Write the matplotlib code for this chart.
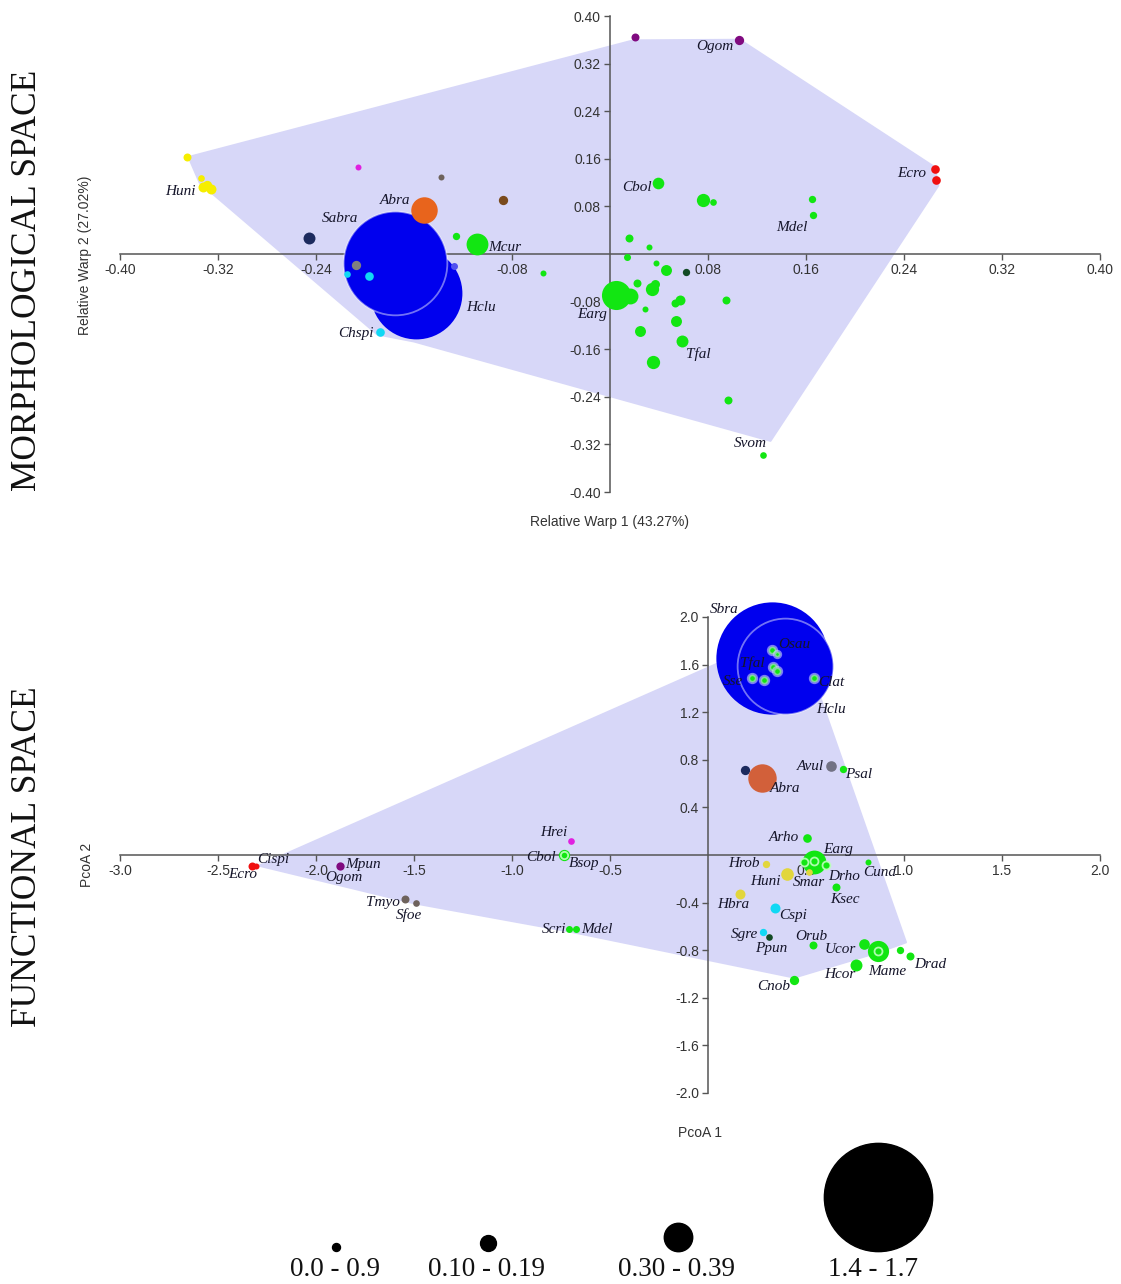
import matplotlib
matplotlib.use("Agg")
import matplotlib.pyplot as plt
from matplotlib.patches import Polygon

plt.rcParams['axes.unicode_minus'] = False

# ---------------- morphological space (relative warps) ----------------
morph_x = [-0.1586, -0.1753, -0.127,
           -0.345, -0.334, -0.332, -0.326, -0.329,
           -0.2055, -0.138, -0.0876, -0.152, -0.2455,
           -0.1257, -0.1088, -0.2073, -0.2144, -0.197, -0.188, -0.0544,
           0.0203, 0.1054, 0.265, 0.266,
           0.0388, 0.0761, 0.084, 0.165, 0.166, 0.0153, 0.0316, 0.014, 0.0378,
           0.0457, 0.0045, 0.016, 0.0218, 0.0343, 0.037, 0.0289, 0.0568, 0.0533,
           0.0945, 0.0248, 0.054, 0.0587, 0.0354, 0.096, 0.1248, 0.062]
morph_y = [-0.066, -0.015, -0.02,
           0.163, 0.128, 0.113, 0.110, 0.116,
           0.147, 0.129, 0.090, 0.0736, 0.0266,
           0.030, 0.016, -0.019, -0.033, -0.037, -0.131, -0.032,
           0.364, 0.360, 0.143, 0.124,
           0.119, 0.091, 0.088, 0.093, 0.065, 0.0265, 0.0126, -0.0047, -0.0154,
           -0.027, -0.0695, -0.071, -0.048, -0.058, -0.05, -0.093, -0.0774, -0.082,
           -0.077, -0.13, -0.1125, -0.1466, -0.182, -0.245, -0.338, -0.031]
morph_abund = [1.30, 1.48, 0.015,
               0.03, 0.01, 0.06, 0.06, 0.05,
               0.0, 0.0, 0.05, 0.31, 0.09,
               0.02, 0.24, 0.05, 0.01, 0.04, 0.04, 0.0,
               0.03, 0.05, 0.04, 0.04,
               0.085, 0.11, 0.01, 0.02, 0.02, 0.03, 0.0, 0.015, 0.0,
               0.075, 0.35, 0.15, 0.03, 0.11, 0.045, 0.0, 0.06, 0.03,
               0.03, 0.075, 0.075, 0.09, 0.11, 0.03, 0.01, 0.02]
morph_group = ['blue', 'blue_ring', 'blue_faint',
               'yellow', 'yellow', 'yellow', 'yellow', 'yellow',
               'magenta', 'taupe', 'brown', 'orange', 'navy',
               'green', 'green', 'grey', 'cyan', 'cyan', 'cyan', 'green',
               'purple', 'purple', 'red', 'red'] + ['green'] * 25 + ['dkgreen']

morph_hull_x = [-0.344, 0.019, 0.106, 0.265, 0.268, 0.131, -0.160, -0.190, -0.335]
morph_hull_y = [0.163, 0.359, 0.360, 0.146, 0.115, -0.314, -0.147, -0.135, 0.120]

morph_names = ['Ogom', 'Ecro', 'Cbol', 'Mdel', 'Huni', 'Abra', 'Sabra', 'Mcur',
               'Hclu', 'Chspi', 'Earg', 'Tfal', 'Svom']
morph_name_x = [0.101, 0.258, 0.034, 0.161, -0.3385, -0.163, -0.2055, -0.0998,
                -0.1178, -0.193, -0.0028, 0.062, 0.1147]
morph_name_y = [0.349, 0.135, 0.112, 0.045, 0.1055, 0.090, 0.059, 0.0104,
                -0.090, -0.1336, -0.1017, -0.168, -0.319]
morph_name_ha = ['right', 'right', 'right', 'right', 'right', 'right', 'right', 'left',
                 'left', 'right', 'right', 'left', 'center']

morph_ticks = [-0.40, -0.32, -0.24, -0.16, -0.08, 0.08, 0.16, 0.24, 0.32, 0.40]

# ---------------- functional space (PCoA) ----------------
func_x = [0.325, 0.395,
          0.328, 0.354, 0.332, 0.354, 0.226, 0.284, 0.539,
          -2.326, -2.304, -1.877, -1.547, -1.490, -0.699, -0.735, -0.735,
          -0.707, -0.675,
          0.187, 0.2755, 0.626, 0.691, 0.504,
          0.54, 0.489, 0.54, 0.602,
          0.514, 0.294, 0.404, 0.165, 0.343, 0.282, 0.31,
          0.653, 0.814, 0.538, 0.794, 0.865, 0.865, 0.981, 1.033, 0.755, 0.441]
func_y = [1.653, 1.586,
          1.726, 1.69, 1.58, 1.544, 1.488, 1.471, 1.485,
          -0.095, -0.095, -0.095, -0.373, -0.40, 0.118, 0.0, 0.0,
          -0.619, -0.619,
          0.716, 0.649, 0.744, 0.725, 0.140,
          -0.056, -0.062, -0.048, -0.084,
          -0.14, -0.076, -0.16, -0.328, -0.448, -0.65, -0.692,
          -0.266, -0.056, -0.756, -0.748, -0.809, -0.809, -0.798, -0.846, -0.922, -1.048]
func_abund = [1.61, 1.36,
              0.03, 0.0, 0.03, 0.03, 0.03, 0.03, 0.03,
              0.03, 0.0, 0.035, 0.03, 0.01, 0.01, 0.08, 0.02,
              0.015, 0.015,
              0.05, 0.34, 0.07, 0.02, 0.04,
              0.27, 0.03, 0.03, 0.03,
              0.01, 0.02, 0.10, 0.06, 0.06, 0.02, 0.01,
              0.03, 0.0, 0.03, 0.07, 0.23, 0.03, 0.02, 0.03, 0.09, 0.05]
func_group = ['blue', 'blue_ring'] + ['green_halo'] * 7 + \
             ['red', 'red', 'purple', 'taupe', 'taupe', 'magenta', 'green', 'green_ring',
              'green', 'green',
              'navy', 'rust', 'slate', 'green', 'green',
              'green', 'green_ring', 'green_ring', 'green_ring',
              'mustard', 'mustard', 'mustard', 'mustard', 'cyan', 'cyan', 'dkgreen',
              'green', 'green', 'green', 'green', 'green', 'green_ring', 'green', 'green',
              'green', 'green']

func_hull_x = [-2.29, 0.45, 1.01, 0.865, 0.44, -0.70, -1.50]
func_hull_y = [-0.09, 1.90, -0.734, -0.82, -1.03, -0.645, -0.405]

func_names = ['Sbra', 'Osau', 'Tfal', 'Sse', 'Clat', 'Hclu', 'Avul', 'Psal', 'Abra',
              'Cispi', 'Ecro', 'Mpun', 'Ogom', 'Tmyo', 'Sfoe', 'Hrei', 'Cbol', 'Bsop',
              'Scri', 'Mdel', 'Arho', 'Earg', 'Hrob', 'Huni', 'Smar', 'Drho', 'Cund',
              'Ksec', 'Hbra', 'Cspi', 'Sgre', 'Ppun', 'Orub', 'Ucor', 'Mame', 'Drad',
              'Hcor', 'Cnob']
func_name_x = [0.009, 0.357, 0.225, 0.075, 0.56, 0.553, 0.59, 0.697, 0.315,
               -2.30, -2.30, -1.85, -1.857, -1.574, -1.527, -0.719, -0.778, -0.71,
               -0.724, -0.649, 0.467, 0.59, 0.263, 0.369, 0.433, 0.611, 0.792,
               0.698, 0.13, 0.361, 0.254, 0.325, 0.527, 0.755, 0.916, 1.052,
               0.752, 0.42]
func_name_y = [2.067, 1.768, 1.614, 1.46, 1.451, 1.222, 0.747, 0.674, 0.557,
               -0.042, -0.162, -0.078, -0.185, -0.40, -0.507, 0.188, -0.022, -0.073,
               -0.625, -0.625, 0.149, 0.045, -0.07, -0.224, -0.23, -0.179, -0.146,
               -0.37, -0.42, -0.51, -0.672, -0.782, -0.683, -0.796, -0.98, -0.916,
               -1.0, -1.107]
func_name_ha = ['left', 'left', 'center', 'left', 'left', 'left', 'right', 'left', 'left',
                'left', 'right', 'left', 'center', 'right', 'center', 'right', 'right', 'left',
                'right', 'left', 'right', 'left', 'right', 'right', 'left', 'left', 'left',
                'center', 'center', 'left', 'right', 'center', 'center', 'right', 'center', 'left',
                'right', 'right']

func_xticks = [-3.0, -2.5, -2.0, -1.5, -1.0, -0.5, 0.5, 1.0, 1.5, 2.0]
func_yticks = [-2.0, -1.6, -1.2, -0.8, -0.4, 0.4, 0.8, 1.2, 1.6, 2.0]

# abundance classes for the size legend
legend_values = [0.03, 0.15, 0.34, 1.55]
legend_labels = ['0.0 - 0.9', '0.10 - 0.19', '0.30 - 0.39', '1.4 - 1.7']

# ---------------- styles ----------------
HULL = '#d7d7f8'
COLORS = {
    'blue': '#0000ee', 'blue_ring': '#0000ee', 'blue_faint': '#5050f0',
    'green': '#12e612', 'green_ring': '#12e612', 'green_halo': '#12e612',
    'dkgreen': '#124a24', 'yellow': '#f6ee00', 'mustard': '#e2d63c',
    'magenta': '#e020e0', 'taupe': '#6e625c', 'brown': '#7a4a1c',
    'orange': '#e8641c', 'rust': '#d2603a', 'navy': '#1c2a5e', 'grey': '#808080',
    'slate': '#727284', 'cyan': '#10d8f4', 'purple': '#800a80', 'red': '#f01010',
}
EDGES = {
    'blue_ring': ((1, 1, 1, 0.45), 1.3),
    'green_ring': ((0.75, 1, 0.75, 0.9), 1.3),
    'green_halo': ((0.8, 0.8, 1, 0.6), 2.4),
}
LABEL_FONT = dict(family='Liberation Serif', style='italic', fontsize=11, color='#15152a')
TICK_FONT = dict(family='Liberation Sans', size=10)


def radius_px(v):
    return 3 + 33 * v


def marker_size(v):
    return (2 * radius_px(v) * 72 / 100) ** 2


def draw_space(ax, xs, ys, ab, groups, hx, hy, names, nx, ny, nha, xt, yt, fmt, lims):
    ax.add_patch(Polygon(list(zip(hx, hy)), closed=True, fc=HULL, ec=HULL, lw=1.5,
                         joinstyle='round', zorder=0.2))
    for x, y, v, g in zip(xs, ys, ab, groups):
        ec, lw = EDGES.get(g, ('none', 0))
        ax.scatter(x, y, s=marker_size(v), c=COLORS[g], edgecolors=[ec], linewidths=lw,
                   zorder=3, clip_on=False)
    for t, x, y, ha in zip(names, nx, ny, nha):
        ax.text(x, y, t, ha=ha, va='center', zorder=5, **LABEL_FONT)

    ax.set_xlim(lims[0])
    ax.set_ylim(lims[1])
    ax.set_axisbelow(True)
    for s in ['top', 'right']:
        ax.spines[s].set_visible(False)
    for s in ['left', 'bottom']:
        ax.spines[s].set_position(('data', 0))
        ax.spines[s].set_color('#555555')
        ax.spines[s].set_linewidth(1.1)
        ax.spines[s].set_zorder(0.5)
    ax.set_xticks(xt)
    ax.set_yticks(yt)
    ax.set_xticklabels([fmt.format(t) for t in xt], **TICK_FONT)
    ax.set_yticklabels([fmt.format(t) for t in yt], **TICK_FONT)
    ax.tick_params(direction='out', length=4.5, width=1, color='#555555',
                   labelcolor='#333333', pad=2)
    ax.patch.set_visible(False)


W, H = 1121, 1284
fig = plt.figure(figsize=(W / 100, H / 100), dpi=100)


def fig_box(left, top, right, bottom):
    return [left / W, 1 - bottom / H, (right - left) / W, (bottom - top) / H]


ax1 = fig.add_axes(fig_box(120, 16, 1100, 492))
draw_space(ax1, morph_x, morph_y, morph_abund, morph_group, morph_hull_x, morph_hull_y,
           morph_names, morph_name_x, morph_name_y, morph_name_ha,
           morph_ticks, morph_ticks, '{:.2f}', ((-0.4, 0.4), (-0.4, 0.4)))

ax2 = fig.add_axes(fig_box(120, 617, 1100, 1093))
draw_space(ax2, func_x, func_y, func_abund, func_group, func_hull_x, func_hull_y,
           func_names, func_name_x, func_name_y, func_name_ha,
           func_xticks, func_yticks, '{:.1f}', ((-3, 2), (-2, 2)))

# axis titles
sans = dict(family='Liberation Sans', fontsize=10, color='#333333')
fig.text(610 / W, 1 - 522 / H, 'Relative Warp 1 (43.27%)', ha='center', va='center', **sans)
fig.text(85 / W, 1 - 255 / H, 'Relative Warp 2 (27.02%)', ha='center', va='center',
         rotation=90, **sans)
fig.text(700 / W, 1 - 1133 / H, 'PcoA 1', ha='center', va='center', **sans)
fig.text(87 / W, 1 - 865 / H, 'PcoA 2', ha='center', va='center', rotation=90, **sans)

serif = dict(family='Liberation Serif', fontsize=25.5, color='#111111')
fig.text(28 / W, 1 - 280 / H, 'MORPHOLOGICAL SPACE', ha='center', va='center',
         rotation=90, **serif)
fig.text(28 / W, 1 - 857 / H, 'FUNCTIONAL SPACE', ha='center', va='center',
         rotation=90, **serif)

# size legend, laid out in pixel units
lax = fig.add_axes([0, 0, 1, 1])
lax.set_xlim(0, W)
lax.set_ylim(H, 0)
lax.axis('off')
leg_cx = [336, 488, 678, 878]
leg_tx = [335, 487, 677, 873]
for v, lab, cx, tx in zip(legend_values, legend_labels, leg_cx, leg_tx):
    lax.scatter(cx, 1251 - radius_px(v), s=marker_size(v), c='black')
    lax.text(tx, 1270, lab, ha='center', va='center', family='Liberation Serif',
             fontsize=19.5, color='#111111')

fig.savefig('out.png', dpi=100)
